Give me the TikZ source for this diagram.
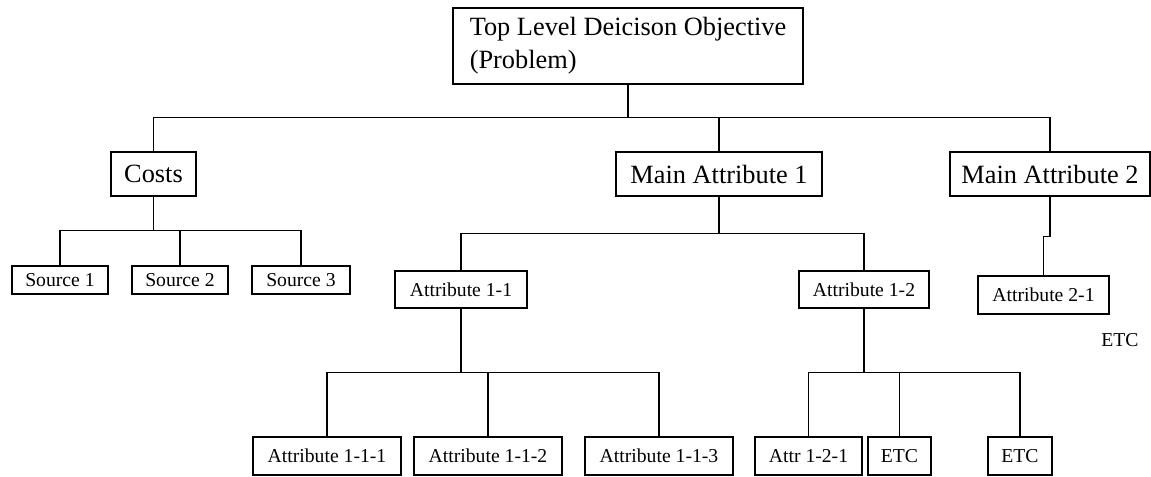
\documentclass[tikz,border=0pt]{standalone}
\usepackage{fontspec}
\setmainfont{Liberation Serif}
\usetikzlibrary{positioning}

\begin{document}
\begin{tikzpicture}[
  x=0.02cm, y=-0.02cm,
  line width=0.8pt,
  box/.style 2 args={draw,inner sep=0pt,minimum width=#1*0.02cm,
    minimum height=#2*0.02cm},
  big/.style={font=\fontsize{15}{18.7}\selectfont},
  small/.style={font=\fontsize{11.2}{13}\selectfont},
  link/.style={line width=0.8pt},
]
  \useasboundingbox (0,0) rectangle (1151,476);

  \node[box={350}{76},big,align=left] (top) at (628,46) {Top Level Deicison Objective\\(Problem)};

  \node[box={85}{44},big] (costs) at (153.5,174) {Costs};
  \node[box={206}{44},big] (ma1) at (719,174) {Main Attribute 1};
  \node[box={200}{44},big] (ma2) at (1050,174) {Main Attribute 2};

  \node[box={96}{28},small] (s1) at (60,280) {Source 1};
  \node[box={96}{28},small] (s2) at (180,280) {Source 2};
  \node[box={98}{28},small] (s3) at (301,280) {Source 3};

  \node[box={132}{37},small] (a11) at (461,289.5) {Attribute 1-1};
  \node[box={130}{37},small] (a12) at (864,289.5) {Attribute 1-2};
  \node[box={131}{38},small] (a21) at (1043.5,295) {Attribute 2-1};
  \node[small] (etc) at (1120,340) {ETC};

  \node[box={148}{38},small] (a111) at (327,456) {Attribute 1-1-1};
  \node[box={148}{38},small] (a112) at (488,456) {Attribute 1-1-2};
  \node[box={148}{38},small] (a113) at (659,456) {Attribute 1-1-3};
  \node[box={107}{38},small] (a121) at (808.5,456) {Attr 1-2-1};
  \node[box={63}{38},small] (e1) at (899.5,456) {ETC};
  \node[box={64}{38},small] (e2) at (1020,456) {ETC};

  % tree lines
  \foreach \c in {costs,ma1,ma2}
    \draw[link] (top.south) -- ++(0,33) -| (\c.north);
  \foreach \c in {s1,s2,s3}
    \draw[link] (costs.south) -- ++(0,34) -| (\c.north);
  \foreach \c in {a11,a12}
    \draw[link] (ma1.south) -- ++(0,37) -| (\c.north);
  \draw[link] (ma2.south) -- ++(0,40) -| (a21.north);
  \foreach \c in {a111,a112,a113}
    \draw[link] (a11.south) -- ++(0,64) -| (\c.north);
  \foreach \c in {a121,e1,e2}
    \draw[link] (a12.south) -- ++(0,64) -| (\c.north);
\end{tikzpicture}
\end{document}
